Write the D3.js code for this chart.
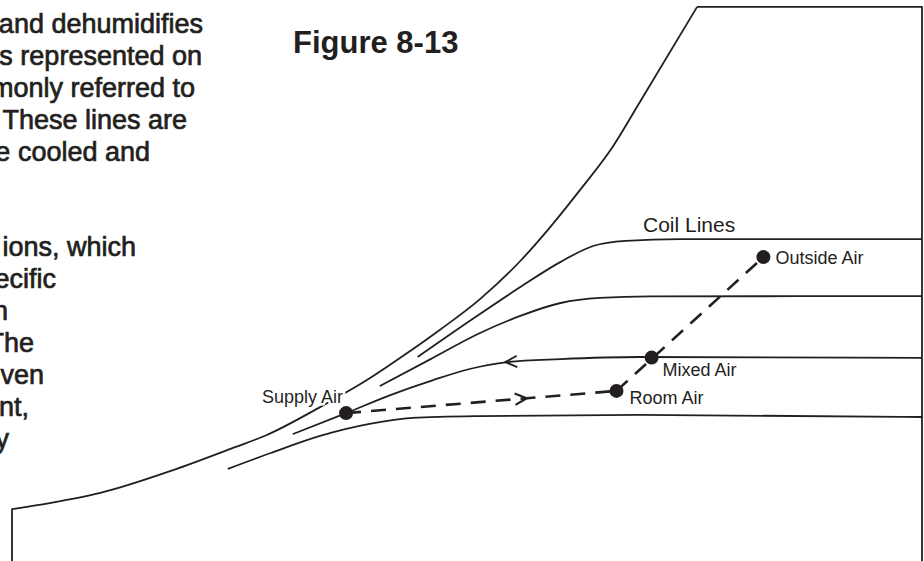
<!DOCTYPE html>
<html>
<head>
<meta charset="utf-8" />
<title>Figure 8-13</title>
<script src="https://d3js.org/d3.v7.min.js"></script>
<style>
  body { margin: 0; background: #fff; }
  svg { display: block; }
  .ink { fill: none; stroke: #231f20; stroke-width: 1.8; stroke-linejoin: round; }
  .dash { fill: none; stroke: #231f20; stroke-width: 2.6; stroke-dasharray: 15 10; }
  .body-text { font: 27px "Liberation Sans", Arial, sans-serif; fill: #231f20; stroke: #231f20; stroke-width: 0.7; }
  .label { font: 18px "Liberation Sans", Arial, sans-serif; fill: #231f20; }
  .halo { stroke: #fff; stroke-width: 5; paint-order: stroke; stroke-linejoin: round; }
</style>
</head>
<body>
<script>
// - - - - - DATA (dry bulb F, humidity ratio gr/lb) - - - - - //
var saturation = [[40, 0], [40, 17.3], [42.9, 19.3], [46.8, 22.7], [52.4, 30.3], [57, 37.7],
  [59.6, 42], [63.7, 51.3], [67.3, 60.3], [70.4, 69.3], [72.9, 77], [76, 87.3], [79.1, 100],
  [81.4, 111.3], [83.7, 123.7], [86.2, 138], [88.3, 153], [92.7, 184.7]];
var topEdge = [[92.7, 184.7], [110, 184.7], [110, 0]];

var coil1 = [[71.2, 68], [75.2, 80], [79.1, 91.3], [82.2, 99.7], [84.7, 105], [87.2, 106.7], [91.4, 107.3], [110, 107.3]];
var coil2 = [[68.3, 58.3], [72.2, 67.3], [76, 76], [79.1, 81.7], [82.2, 86], [85.2, 87.7], [89.1, 88.2], [110, 88.3]];
var coil3 = [[61.6, 42.3], [65.7, 49.3], [69.1, 55.3], [72.4, 60.3], [75.2, 64], [78.1, 66.3], [82.2, 67.3], [88.3, 68], [110, 67.7]];
var coil4 = [[56.6, 30.7], [59.9, 36], [63.7, 41.7], [67.5, 45.7], [70.8, 47.7], [76, 48.3], [88.3, 48.7], [110, 48]];

var airNames = ["Supply Air", "Room Air", "Mixed Air", "Outside Air"];
var airTemps = [65.7, 86.5, 89.2, 97.8];
var airGrains = [49.3, 56.7, 67.8, 101.3];

var textLines = ["and dehumidifies", "s represented on", "monly referred to", ". These lines are",
  "e cooled and", "ions, which", "ecific", "n", "The", "ven", "nt,", "y"];
var textEnds = [203, 202, 195, 187, 150, 136, 56, 8, 34, 44, 29, 9];
var textRows = [0, 1, 2, 3, 4, 7, 8, 9, 10, 11, 12, 13];

// - - - - - SETUP - - - - - //
var width = 924, height = 561;
var x = d3.scaleLinear().domain([40, 110]).range([12, 922]);
var y = d3.scaleLinear().domain([0, 185]).range([561, 6]);

var svg = d3.select("body").append("svg")
    .attr("width", width)
    .attr("height", height);

var smooth = d3.line()
    .x(function(d) { return x(d[0]); })
    .y(function(d) { return y(d[1]); })
    .curve(d3.curveMonotoneX);
var straight = d3.line()
    .x(function(d) { return x(d[0]); })
    .y(function(d) { return y(d[1]); });

// saturation curve, with its vertical start
svg.append("path").attr("class", "ink")
    .attr("d", straight(saturation.slice(0, 2)) + smooth(saturation.slice(1)).replace(/^M/, "L"));
svg.append("path").attr("class", "ink").attr("d", straight(topEdge));

[coil1, coil2, coil3, coil4].forEach(function(c) {
  svg.append("path").attr("class", "ink").attr("d", smooth(c));
});

// open arrowhead helper
function chevron(px, py, ang) {
  var len = 13, spread = 0.45;
  var a1 = ang + Math.PI - spread, a2 = ang + Math.PI + spread;
  return "M" + (px + len * Math.cos(a1)) + "," + (py + len * Math.sin(a1)) +
    "L" + px + "," + py +
    "L" + (px + len * Math.cos(a2)) + "," + (py + len * Math.sin(a2));
}

// arrow on coil line 3 pointing back toward supply
var c3a = coil3[5], c3b = coil3[6];
var c3ang = Math.atan2(y(c3a[1]) - y(c3b[1]), x(c3a[0]) - x(c3b[0]));
svg.append("path").attr("class", "ink").attr("d", chevron(x(c3a[0]) - 2, y(c3a[1]), c3ang));

// process lines
var pts = airNames.map(function(n, i) { return { name: n, px: x(airTemps[i]), py: y(airGrains[i]) }; });
var sup = pts[0], room = pts[1], mix = pts[2], out = pts[3];

svg.append("path").attr("class", "dash")
    .attr("d", "M" + sup.px + "," + sup.py + "L" + room.px + "," + room.py);
svg.append("path").attr("class", "dash")
    .attr("d", "M" + room.px + "," + room.py + "L" + out.px + "," + out.py);

var f = 0.668;
var ang = Math.atan2(room.py - sup.py, room.px - sup.px);
svg.append("path").attr("class", "ink").style("stroke-width", 2.2)
    .attr("d", chevron(sup.px + f * (room.px - sup.px), sup.py + f * (room.py - sup.py), ang));

svg.selectAll("circle.pt").data(pts).enter().append("circle")
    .attr("class", "pt")
    .attr("cx", function(d) { return d.px; })
    .attr("cy", function(d) { return d.py; })
    .attr("r", 7)
    .attr("fill", "#231f20");

// labels next to the points
var offsets = { "Supply Air": [-3, -10, "end"], "Room Air": [13, 13, "start"],
  "Mixed Air": [11, 18, "start"], "Outside Air": [12, 7, "start"] };
svg.selectAll("text.pt-label").data(pts).enter().append("text")
    .attr("class", "label halo")
    .attr("x", function(d) { return d.px + offsets[d.name][0]; })
    .attr("y", function(d) { return d.py + offsets[d.name][1]; })
    .attr("text-anchor", function(d) { return offsets[d.name][2]; })
    .text(function(d) { return d.name; });

svg.append("text").attr("class", "label")
    .attr("x", 643).attr("y", 232)
    .style("font-size", "21px")
    .text("Coil Lines");

svg.append("text")
    .attr("x", 293).attr("y", 53)
    .style("font", "bold 31px 'Liberation Sans', Arial, sans-serif")
    .style("fill", "#231f20")
    .text("Figure 8-13");

// cropped paragraph on the left
svg.selectAll("text.body-text").data(textLines).enter().append("text")
    .attr("class", "body-text")
    .attr("text-anchor", "end")
    .attr("x", function(d, i) { return textEnds[i]; })
    .attr("y", function(d, i) { return 33 + 31.9 * textRows[i]; })
    .text(function(d) { return d; });
</script>
</body>
</html>
